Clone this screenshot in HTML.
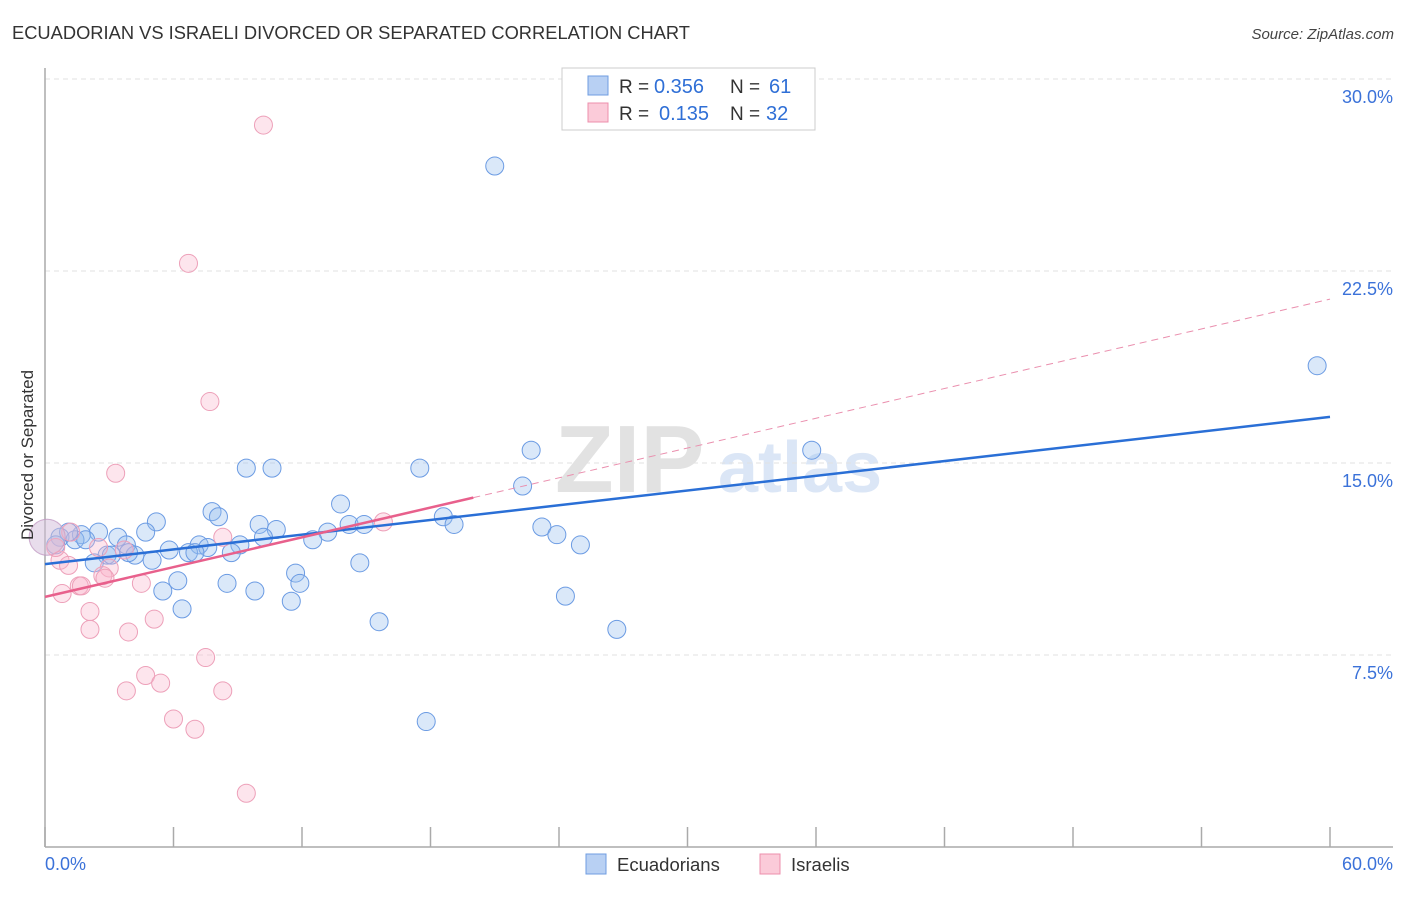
<!DOCTYPE html>
<html><head><meta charset="utf-8"><style>
body{margin:0;background:#fff;font-family:"Liberation Sans",sans-serif}
svg text{font-family:"Liberation Sans",sans-serif}
</style></head><body>
<svg id="chart" width="1406" height="892" viewBox="0 0 1406 892" xmlns="http://www.w3.org/2000/svg">
<text x="12" y="39" font-size="18.5" fill="#333" textLength="678" lengthAdjust="spacingAndGlyphs">ECUADORIAN VS ISRAELI DIVORCED OR SEPARATED CORRELATION CHART</text>
<text x="1394" y="39" font-size="15" fill="#444" font-style="italic" text-anchor="end">Source: ZipAtlas.com</text>
<g>
<text x="555" y="492" font-family="Liberation Serif,serif" font-size="96" fill="#e2e2e2" font-weight="bold">ZIP</text>
<text x="718" y="492" font-size="72" fill="#dbe6f6" font-weight="bold">atlas</text>
</g>
<g id="grid"></g>
<g id="axes"></g>
<g id="marks"></g>
<text transform="translate(33,455) rotate(-90)" font-size="17" fill="#333" text-anchor="middle">Divorced or Separated</text>
<g>
<rect x="562" y="68" width="253" height="62" fill="#fff" stroke="#ccc"/>
<rect x="588" y="76" width="20" height="19" fill="#b8d0f3" stroke="#6f9de0"/>
<rect x="588" y="103" width="20" height="19" fill="#fbcbd9" stroke="#ec8fac"/>
<text x="619" y="93" font-size="19" fill="#333">R =</text>
<text x="654" y="93" font-size="20" fill="#2f6fd6">0.356</text>
<text x="730" y="93" font-size="19" fill="#333">N =</text>
<text x="769" y="93" font-size="20" fill="#2f6fd6">61</text>
<text x="619" y="120" font-size="19" fill="#333">R =</text>
<text x="659" y="120" font-size="20" fill="#2f6fd6">0.135</text>
<text x="730" y="120" font-size="19" fill="#333">N =</text>
<text x="766" y="120" font-size="20" fill="#2f6fd6">32</text>
</g>
<g>
<rect x="586" y="854" width="20" height="20" fill="#b8d0f3" stroke="#6f9de0"/>
<text x="617" y="871" font-size="18.5" fill="#333">Ecuadorians</text>
<rect x="760" y="854" width="20" height="20" fill="#fbcbd9" stroke="#ec8fac"/>
<text x="791" y="871" font-size="18.5" fill="#333">Israelis</text>
</g>
</svg>
<script>
const xTicks=[0,6,12,18,24,30,36,42,48,54,60];
const yTicks=[7.5,15,22.5,30];
const yTickLabels=["7.5%","15.0%","22.5%","30.0%"];
const xEndLabels=["0.0%","60.0%"];
const blueX=[21.0,59.4,22.7,35.8,10.6,9.4,17.5,22.3,13.8,7.8,8.1,18.6,5.2,19.1,10.0,14.2,14.9,23.2,10.8,4.7,2.5,13.2,23.9,1.7,0.7,3.4,10.2,12.5,7.2,3.8,9.1,7.6,1.4,25.0,0.5,5.8,6.7,7.0,8.7,2.9,4.2,3.9,5.0,2.3,14.7,11.7,6.2,11.9,8.5,5.5,9.8,24.3,11.5,6.4,15.6,26.7,17.8,1.1,1.9,3.1,0.1];
const blueY=[26.6,18.8,15.5,15.5,14.8,14.8,14.8,14.1,13.4,13.1,12.9,12.9,12.7,12.6,12.6,12.6,12.6,12.5,12.4,12.3,12.3,12.3,12.2,12.2,12.1,12.1,12.1,12.0,11.8,11.8,11.8,11.7,12.0,11.8,11.8,11.6,11.5,11.5,11.5,11.4,11.4,11.5,11.2,11.1,11.1,10.7,10.4,10.3,10.3,10.0,10.0,9.8,9.6,9.3,8.8,8.5,4.9,12.3,12.0,11.4,12.1];
const blueBig=[60];
const pinkX=[10.2,6.7,7.7,3.3,15.8,8.3,1.2,3.7,0.7,1.1,3.0,2.7,1.6,1.7,4.5,2.8,0.8,2.1,5.1,2.1,3.9,7.5,4.7,5.4,3.8,8.3,6.0,7.0,9.4,2.5,0.5,0.1];
const pinkY=[28.2,22.8,17.4,14.6,12.7,12.1,12.3,11.6,11.2,11.0,10.9,10.6,10.2,10.2,10.3,10.5,9.9,9.2,8.9,8.5,8.4,7.4,6.7,6.4,6.1,6.1,5.0,4.6,2.1,11.7,11.7,12.1];
const pinkBig=[31];
const blueTrend=[11.05,16.8];
const pinkTrend=[9.77,21.4];
const pinkSolidEnd=20;
const X0=45,X1=1330,Y0=847,YPX=192/7.5;
const sx=v=>X0+(v/60)*(X1-X0), sy=v=>Y0-v*YPX;
const NS="http://www.w3.org/2000/svg";
function mk(t,a,p){const e=document.createElementNS(NS,t);for(const k in a)e.setAttribute(k,a[k]);p.appendChild(e);return e;}
const grid=document.getElementById('grid'),axes=document.getElementById('axes'),marks=document.getElementById('marks');
yTicks.forEach((v,i)=>{
 const l=mk('line',{x1:X0,x2:1393,y1:sy(v),y2:sy(v),stroke:'#e2e2e2','stroke-dasharray':'5,4'},grid);
 
 
 const t=mk('text',{x:1393,y:sy(v)+24,'font-size':18,fill:'#3b72d9','text-anchor':'end'},axes);
 t.textContent=yTickLabels[i];
 
 
});
const ax=mk('line',{x1:X0,x2:X0,y1:68,y2:Y0,stroke:'#aaa','stroke-width':1.5},axes);


const bx=mk('line',{x1:X0,x2:1393,y1:Y0,y2:Y0,stroke:'#aaa','stroke-width':1.5},axes);


xTicks.forEach(v=>{
 const l=mk('line',{x1:sx(v),x2:sx(v),y1:827,y2:Y0,stroke:'#aaa','stroke-width':1.5},axes);
 
 
});
[[X0,'start',0],[1393,'end',1]].forEach(([x,a,i])=>{
 const t=mk('text',{x:x,y:870,'font-size':18,fill:'#3b72d9','text-anchor':a},axes);
 t.textContent=xEndLabels[i];
 
 
});
blueX.forEach((v,i)=>{
 const big=i==blueBig[0];
 const c=mk('circle',{cx:sx(v),cy:sy(blueY[i]),r:big?18:9,fill:big?'rgba(170,195,235,0.3)':'rgba(150,188,238,0.35)',stroke:big?'rgba(110,150,220,0.5)':'#6b9be3','stroke-width':1},marks);
 
 
});
pinkX.forEach((v,i)=>{
 const big=i==pinkBig[0];
 const c=mk('circle',{cx:sx(v),cy:sy(pinkY[i]),r:big?18:9,fill:big?'rgba(240,185,205,0.3)':'rgba(248,180,202,0.35)',stroke:big?'rgba(230,150,180,0.5)':'#eda0b9','stroke-width':1},marks);
 
 
});
const py=x=>pinkTrend[0]+(pinkTrend[1]-pinkTrend[0])*x/60;
const pd=mk('line',{x1:sx(pinkSolidEnd),y1:sy(py(pinkSolidEnd)),x2:sx(60),y2:sy(pinkTrend[1]),stroke:'#ea8fae','stroke-width':1,'stroke-dasharray':'7,5'},marks);


const bl=mk('line',{x1:sx(0),y1:sy(blueTrend[0]),x2:sx(60),y2:sy(blueTrend[1]),stroke:'#2a6fd6','stroke-width':2.5},marks);


const pl=mk('line',{x1:sx(0),y1:sy(pinkTrend[0]),x2:sx(pinkSolidEnd),y2:sy(py(pinkSolidEnd)),stroke:'#e8608c','stroke-width':2.5},marks);


</script>
</body></html>
